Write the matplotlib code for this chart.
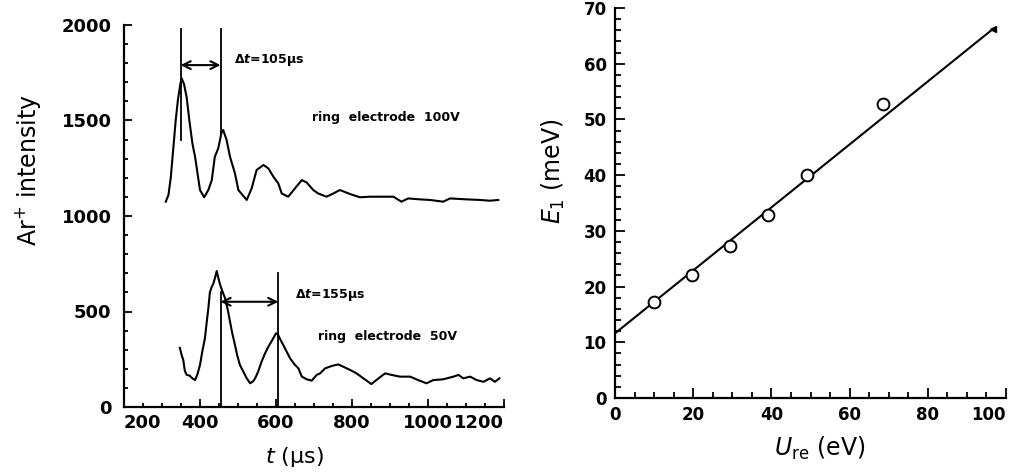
import matplotlib
matplotlib.use('Agg')
import matplotlib.pyplot as plt
from matplotlib.ticker import MultipleLocator

plt.rcParams['font.family'] = ['DejaVu Sans']
plt.rcParams['mathtext.fontset'] = 'custom'
plt.rcParams['mathtext.rm'] = 'DejaVu Sans'
plt.rcParams['mathtext.it'] = 'DejaVu Sans:italic'
plt.rcParams['mathtext.bf'] = 'DejaVu Sans:bold'
plt.rcParams['mathtext.bfit'] = 'DejaVu Sans:italic:bold'

# ---- Left panel: time-of-flight traces ----
t_100 = [310, 317, 323, 330, 336, 342, 349, 352, 358, 365, 372, 380, 387, 400, 411,
         422, 431, 439, 448, 457, 461, 470, 479, 492, 501, 512, 523, 536, 549, 567,
         580, 593, 606, 615, 632, 640, 650, 668, 681, 698, 711, 733, 751, 768, 795,
         821, 847, 874, 909, 930, 948, 979, 1005, 1040, 1058, 1102, 1137, 1163, 1185]
I_100 = [1075, 1110, 1200, 1360, 1500, 1610, 1700, 1720, 1690, 1620, 1500, 1380, 1310, 1136, 1098,
         1136, 1188, 1310, 1354, 1440, 1450, 1398, 1310, 1223, 1136, 1110, 1084, 1145, 1241, 1267,
         1249, 1206, 1171, 1118, 1101, 1120, 1145, 1188, 1175, 1136, 1118, 1101, 1118, 1136, 1115,
         1098, 1101, 1101, 1101, 1075, 1092, 1087, 1084, 1075, 1092, 1087, 1084, 1080, 1084]

t_50 = [347, 352, 356, 360, 365, 372, 380, 387, 393, 400, 406, 413, 418, 422, 426,
        431, 435, 440, 444, 449, 453, 460, 466, 473, 479, 485, 492, 498, 505, 514,
        523, 532, 540, 545, 553, 562, 571, 580, 590, 600, 605, 611, 619, 628, 637,
        648, 659, 668, 681, 694, 707, 716, 729, 747, 764, 777, 795, 812, 830, 851,
        864, 887, 904, 926, 953, 974, 996, 1014, 1040, 1067, 1080, 1093, 1111, 1128,
        1146, 1163, 1176, 1188]
I_50 = [310, 270, 246, 190, 168, 165, 150, 141, 170, 220, 290, 360, 450, 517, 600,
        630, 645, 680, 712, 670, 639, 600, 569, 510, 447, 385, 325, 270, 220, 185,
        150, 124, 135, 150, 185, 237, 280, 316, 350, 386, 380, 355, 325, 290, 255,
        225, 202, 159, 145, 138, 168, 176, 202, 215, 223, 211, 194, 176, 150, 120,
        141, 176, 168, 159, 159, 141, 124, 141, 145, 159, 168, 150, 159, 141,
        132, 150, 132, 150]

t_ticks = [200, 400, 600, 800, 1000, 1200]
I_ticks = [0, 500, 1000, 1500, 2000]

# peak-marker lines (t position, lower intensity, upper intensity)
mark_100_t = [349, 454]
mark_100_lo = [1398, 1435]
mark_100_hi = [1980, 1980]
arrow_100_I = 1790
mark_50_t = [454, 606]
mark_50_lo = [0, 0]
mark_50_hi = [600, 700]
arrow_50_I = 551

# ---- Right panel: E1 vs U_re ----
U_re = [10.1, 19.7, 29.3, 39.2, 49.0, 68.6]
E_1 = [17.2, 22.1, 27.3, 32.9, 40.0, 52.7]
fit_U = [0, 96.6]
fit_E = [11.6, 66.2]
U_ticks = [0, 20, 40, 60, 80, 100]
E_ticks = [0, 10, 20, 30, 40, 50, 60, 70]

W, H = 1011, 473
fig = plt.figure(figsize=(W / 100, H / 100), dpi=100)

def px_axes(x0, x1, ytop, ybot):
    return fig.add_axes([x0 / W, 1 - ybot / H, (x1 - x0) / W, (ybot - ytop) / H])

ax1 = px_axes(124, 504, 25, 407)
ax2 = px_axes(615, 1006, 8, 398)

lw = 1.5
ax1.plot(t_100, I_100, color='black', lw=lw)
ax1.plot(t_50, I_50, color='black', lw=lw)
for t, lo, hi in zip(mark_100_t, mark_100_lo, mark_100_hi):
    ax1.plot([t, t], [lo, hi], color='black', lw=1.3)
for t, lo, hi in zip(mark_50_t, mark_50_lo, mark_50_hi):
    ax1.plot([t, t], [lo, hi], color='black', lw=1.3)
ax1.annotate('', xy=(mark_100_t[1], arrow_100_I), xytext=(mark_100_t[0], arrow_100_I),
             arrowprops=dict(arrowstyle='<->', color='black', lw=1.5,
                             shrinkA=0, shrinkB=0, mutation_scale=14))
ax1.annotate('', xy=(mark_50_t[1], arrow_50_I), xytext=(mark_50_t[0], arrow_50_I),
             arrowprops=dict(arrowstyle='<->', color='black', lw=1.5,
                             shrinkA=0, shrinkB=0, mutation_scale=14))

txt_kw = dict(fontsize=9, fontweight='bold', va='center', ha='left')
ax1.text(489, 1817, 'Δ' + r'$\mathbfit{t}$' + '=105µs', **txt_kw)
ax1.text(695, 1518, 'ring  electrode  100V', **txt_kw)
ax1.text(650, 586, 'Δ' + r'$\mathbfit{t}$' + '=155µs', **txt_kw)
ax1.text(711, 368, 'ring  electrode  50V', **txt_kw)

ax1.set_xlim(200, 1200)
ax1.set_ylim(0, 2000)
ax1.set_xticks(t_ticks)
ax1.set_xticklabels([str(v) for v in t_ticks])
ax1.set_yticks(I_ticks)
ax1.set_yticklabels([str(v) for v in I_ticks])
ax1.xaxis.set_minor_locator(MultipleLocator(50))
ax1.yaxis.set_minor_locator(MultipleLocator(100))

ax2.plot(fit_U, fit_E, color='black', lw=lw)
ax2.plot([fit_U[-1]], [fit_E[-1]], marker='<', color='black', ms=4)
ax2.plot(U_re, E_1, linestyle='none', marker='o', ms=8.5, mfc='white',
         mec='black', mew=1.4)
ax2.set_xlim(0, 100)
ax2.set_ylim(0, 70)
ax2.set_xticks(U_ticks)
ax2.set_xticklabels([str(v) for v in U_ticks])
ax2.set_yticks(E_ticks)
ax2.set_yticklabels([str(v) for v in E_ticks])
ax2.xaxis.set_minor_locator(MultipleLocator(5))
ax2.yaxis.set_minor_locator(MultipleLocator(2))

for ax in (ax1, ax2):
    for s in ('top', 'right'):
        ax.spines[s].set_visible(False)
    for s in ('left', 'bottom'):
        ax.spines[s].set_linewidth(1.6)
    ax.tick_params(which='both', direction='in', width=1.3)
    ax.tick_params(which='major', length=6)
    ax.tick_params(which='minor', length=3)
    for lab in ax.get_xticklabels() + ax.get_yticklabels():
        lab.set_fontweight('bold')

ax1.tick_params(axis='y', which='major', labelsize=13, pad=9)
ax1.tick_params(axis='x', which='major', labelsize=13, pad=5)
ax2.tick_params(axis='y', which='major', labelsize=12, pad=6)
ax2.tick_params(axis='x', which='major', labelsize=12, pad=6)
ax2.tick_params(which='major', length=7)
ax2.tick_params(which='minor', length=4)

xl1 = ax1.get_xticklabels()
xl1[0].set_ha('left')
xl1[-1].set_ha('right')
xl2 = ax2.get_xticklabels()
xl2[-1].set_ha('right')

ax1.set_ylabel('Ar$^{+}$ intensity', fontsize=17, va='center', ha='center')
ax1.yaxis.set_label_coords((28 - 124) / 380, (407 - 170) / 382)
ax1.set_xlabel('$t$ (µs)', fontsize=16, va='center', ha='center')
ax1.xaxis.set_label_coords((294 - 124) / 380, (407 - 457) / 382)

ax2.set_ylabel('$E_1$ (meV)', fontsize=17, va='center', ha='center')
ax2.yaxis.set_label_coords((553 - 615) / 391, (398 - 171) / 390)
ax2.set_xlabel(r'$U_{\mathrm{re}}$ (eV)', fontsize=17, va='center', ha='center')
ax2.xaxis.set_label_coords((820 - 615) / 391, (398 - 448) / 390)

fig.savefig('out.png', dpi=100)
